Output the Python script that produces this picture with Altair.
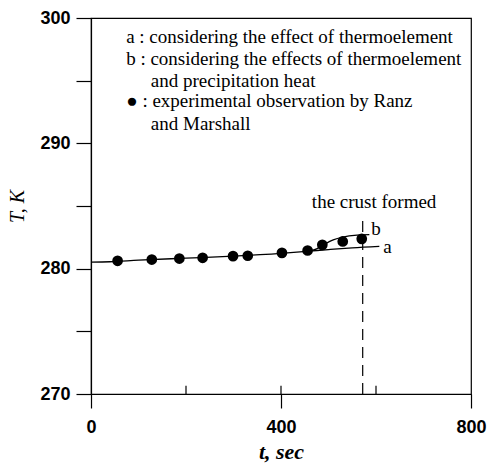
import altair as alt
import pandas as pd

# Experimental observations (Ranz and Marshall)
obs_t = [56, 128, 186, 235, 299, 330, 402, 456, 487, 530, 570]
obs_T = [280.63, 280.73, 280.81, 280.87, 281.00, 281.03, 281.26, 281.45, 281.90, 282.17, 282.38]

# Curve a: thermoelement effect only
a_t = [0, 40, 100, 200, 300, 400, 460, 500, 550, 607]
a_T = [280.52, 280.55, 280.68, 280.84, 281.00, 281.22, 281.40, 281.52, 281.66, 281.78]

# Curve b: thermoelement + precipitation heat
b_t = [460, 475, 490, 510, 530, 560, 586]
b_T = [281.40, 281.58, 281.92, 282.30, 282.52, 282.68, 282.72]

crust_t = 572
crust_T = [270, 283.95]

legend_lines = [
    "a : considering the effect of thermoelement",
    "b : considering the effects of thermoelement",
    "and precipitation heat",
    "\u25CF : experimental observation by Ranz",
    "and Marshall",
]
legend_t = [74, 74, 126, 74, 126]
legend_T = [298.45, 296.7, 295.0, 293.4, 291.55]

curve_labels = ["a", "b", "the crust formed"]
curve_label_t = [624, 600, 596]
curve_label_T = [281.7, 283.15, 285.3]

inner_ticks = [200, 400, 600]

W, H = 380, 376
SERIF = "Liberation Serif"
SANS = "Liberation Sans"

xs = alt.Scale(domain=[0, 800], nice=False)
ys = alt.Scale(domain=[270, 300], nice=False)

x_axis = alt.Axis(
    title="t, sec", values=[0, 400, 800], tickSize=14, tickColor="black", tickWidth=1.2,
    domainColor="black", domainWidth=1.2, labelFont=SANS, labelFontWeight="bold",
    labelFontSize=18, labelColor="black", labelPadding=10, labelFlush=False, grid=False,
    titleFont=SERIF, titleFontStyle="italic", titleFontWeight="bold", titleFontSize=22,
    titleColor="black", titlePadding=5,
)
y_axis = alt.Axis(
    title="T, K", values=[270, 275, 280, 285, 290, 295, 300],
    labelExpr="datum.value % 10 == 0 ? datum.label : ''",
    tickSize=15, tickColor="black", tickWidth=1.2, domainColor="black", domainWidth=1.2,
    labelFont=SANS, labelFontWeight="bold", labelFontSize=18, labelColor="black",
    labelPadding=6, labelFlush=False, grid=False, titleFont=SERIF, titleFontStyle="italic",
    titleFontWeight="normal", titleFontSize=20, titleColor="black", titlePadding=12,
)

df_obs = pd.DataFrame({"t": obs_t, "T": obs_T})
df_a = pd.DataFrame({"t": a_t, "T": a_T})
df_b = pd.DataFrame({"t": b_t, "T": b_T})
df_crust = pd.DataFrame({"t": [crust_t, crust_t], "T": crust_T})
df_leg = pd.DataFrame({"t": legend_t, "T": legend_T, "txt": legend_lines})
df_lab = pd.DataFrame({"t": curve_label_t, "T": curve_label_T, "txt": curve_labels})
df_ticks = pd.DataFrame({"t": inner_ticks, "T": [270] * 3, "T2": [270.65] * 3})

base_x = alt.X("t:Q", scale=xs, axis=x_axis)
base_y = alt.Y("T:Q", scale=ys, axis=y_axis)

line_a = alt.Chart(df_a).mark_line(color="black", strokeWidth=1.3, interpolate="monotone").encode(
    x=base_x, y=base_y)
line_b = alt.Chart(df_b).mark_line(color="black", strokeWidth=1.3, interpolate="monotone").encode(
    x="t:Q", y="T:Q")
pts = alt.Chart(df_obs).mark_circle(color="black", opacity=1, size=115).encode(x="t:Q", y="T:Q")
crust = alt.Chart(df_crust).mark_line(color="black", strokeWidth=1.2, strokeDash=[11, 7]).encode(
    x="t:Q", y="T:Q")
ticks = alt.Chart(df_ticks).mark_rule(color="black", strokeWidth=1.2).encode(
    x="t:Q", y="T:Q", y2="T2:Q")
legend_text = alt.Chart(df_leg).mark_text(
    align="left", baseline="middle", font=SERIF, fontSize=19, color="black").encode(
    x="t:Q", y="T:Q", text="txt:N")
labels = alt.Chart(df_lab).mark_text(
    align="center", baseline="middle", font=SERIF, fontSize=19, color="black").encode(
    x="t:Q", y="T:Q", text="txt:N")

chart = alt.layer(line_a, line_b, crust, pts, ticks, legend_text, labels).properties(
    width=W, height=H,
    autosize=alt.AutoSizeParams(type="none"),
    padding={"left": 91, "top": 18, "right": 16, "bottom": 69},
    background="white",
).configure_view(stroke="black", strokeWidth=1.2)

chart.save("out.html", embed_options={"renderer": "svg", "actions": False})
